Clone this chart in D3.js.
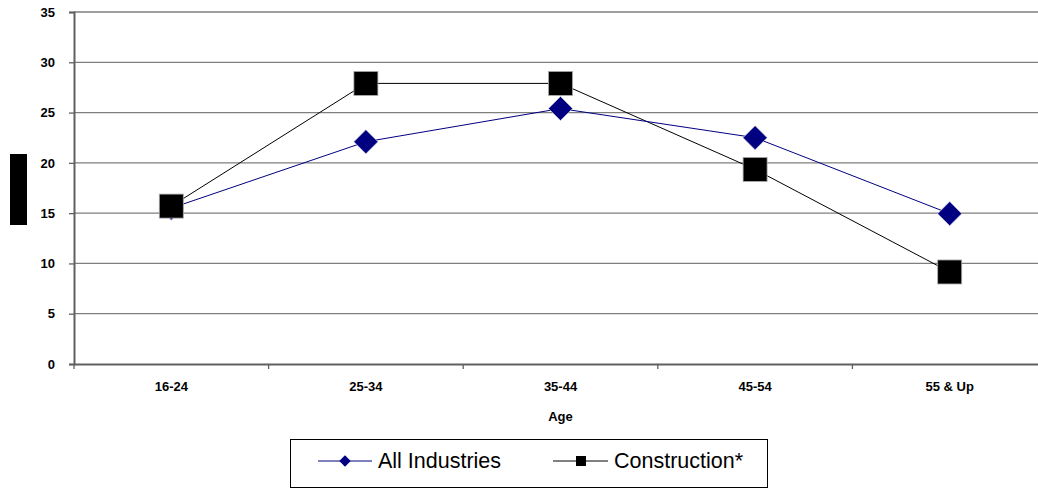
<!DOCTYPE html>
<html><head><meta charset="utf-8">
<script src="https://cdn.jsdelivr.net/npm/d3@7"></script>
<style>body{margin:0;background:#fff;}svg{display:block;}</style>
</head><body>
<svg id="c" width="1038" height="489"></svg>
<script>
const categories = ["16-24","25-34","35-44","45-54","55 & Up"];
const allIndustries = [15.5, 22.1, 25.4, 22.5, 14.95];
const construction = [15.7, 27.9, 27.9, 19.35, 9.15];
const yTicks = [0,5,10,15,20,25,30,35];
const seriesNames = ["All Industries","Construction*"];

const svg = d3.select("#c");
const L = 74, R = 1047, T = 12, B = 364;
const x = d3.scaleBand().domain(categories).range([L, R]);
const y = d3.scaleLinear().domain([0,35]).range([B, T]);
const font = "Liberation Sans, Arial, sans-serif";

// gridlines
svg.append("g").selectAll("line").data(yTicks.filter(d=>d>0)).join("line")
  .attr("x1", L).attr("x2", 1038).attr("y1", d=>y(d)).attr("y2", d=>y(d))
  .attr("stroke", "#7f7f7f").attr("stroke-width", 1.3);

// y axis
const ya = svg.append("g").attr("transform", `translate(${L},0)`)
  .call(d3.axisLeft(y).tickValues(yTicks).tickSize(5).tickPadding(14));
ya.select(".domain").attr("stroke", "#606060").attr("stroke-width", 2);
ya.selectAll(".tick line").attr("stroke", "#606060").attr("stroke-width", 1.3);
ya.selectAll("text").attr("font-family", font).attr("font-weight", "bold")
  .attr("font-size", 13).attr("fill", "#000");

// x axis
const xa = svg.append("g").attr("transform", `translate(0,${B})`)
  .call(d3.axisBottom(x).tickSize(0).tickPadding(18));
xa.select(".domain").attr("stroke", "#606060").attr("stroke-width", 2);
xa.selectAll("text").attr("font-family", font).attr("font-weight", "bold")
  .attr("font-size", 13).attr("fill", "#000");
// category boundary ticks
svg.append("g").selectAll("line").data(categories).join("line")
  .attr("x1", d=>x(d)).attr("x2", d=>x(d)).attr("y1", B).attr("y2", B+5)
  .attr("stroke", "#606060").attr("stroke-width", 1.3);

svg.append("text").attr("x", (x(categories[2]) + x.bandwidth()/2)).attr("y", 421)
  .attr("text-anchor", "middle").attr("font-family", font).attr("font-weight", "bold")
  .attr("font-size", 13).text("Age");

// redacted y title
svg.append("rect").attr("x", 10).attr("y", 154).attr("width", 17).attr("height", 71).attr("fill", "#000");

const cx = d => x(d) + x.bandwidth()/2;
const line = d3.line().x((d,i)=>cx(categories[i])).y(d=>y(d));

svg.append("path").datum(construction).attr("d", line).attr("fill","none")
  .attr("stroke","#000").attr("stroke-width",1);
svg.append("path").datum(allIndustries).attr("d", line).attr("fill","none")
  .attr("stroke","#000080").attr("stroke-width",1);

const diamond = d3.symbol().type(d3.symbolSquare).size(17*17);
svg.append("g").selectAll("path").data(allIndustries).join("path")
  .attr("d", diamond)
  .attr("transform", (d,i)=>`translate(${cx(categories[i])},${y(d)}) rotate(45)`)
  .attr("fill","#000080").attr("stroke","#c8c8e0").attr("stroke-width",0.6);

svg.append("g").selectAll("rect").data(construction).join("rect")
  .attr("x", (d,i)=>cx(categories[i])-12).attr("y", d=>y(d)-12)
  .attr("width",24).attr("height",24)
  .attr("fill","#000").attr("stroke","#aaa").attr("stroke-width",0.8);

// legend
const lg = svg.append("g");
lg.append("rect").attr("x",290.5).attr("y",439.5).attr("width",477).attr("height",48)
  .attr("fill","#fff").attr("stroke","#000").attr("stroke-width",1);
const ly = 461;
lg.append("line").attr("x1",318).attr("x2",372).attr("y1",ly).attr("y2",ly)
  .attr("stroke","#000080").attr("stroke-width",1);
lg.append("path").attr("d", d3.symbol().type(d3.symbolSquare).size(8*8))
  .attr("transform",`translate(345,${ly}) rotate(45)`).attr("fill","#000080");
lg.append("text").attr("x",378).attr("y",ly+7).attr("font-family",font)
  .attr("font-size",21.5).text(seriesNames[0]);
lg.append("line").attr("x1",553).attr("x2",608).attr("y1",ly).attr("y2",ly)
  .attr("stroke","#000").attr("stroke-width",1);
lg.append("rect").attr("x",581-5).attr("y",ly-5).attr("width",10).attr("height",10).attr("fill","#000");
lg.append("text").attr("x",614).attr("y",ly+7).attr("font-family",font)
  .attr("font-size",21.5).text(seriesNames[1]);
</script>
</body></html>
